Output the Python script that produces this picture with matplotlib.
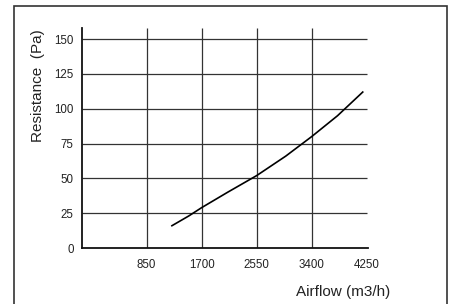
import matplotlib
matplotlib.use('Agg')
import matplotlib.pyplot as plt
from matplotlib.patches import Rectangle

plt.rcParams['font.family'] = ['Liberation Sans', 'DejaVu Sans']

# curve
airflow = [1240, 1500, 1700, 2100, 2550, 3000, 3400, 3800, 4190]
resistance = [16, 23, 29, 40, 52, 66, 80, 95, 112]

xticks = [850, 1700, 2550, 3400, 4250]
yticks = [0, 25, 50, 75, 100, 125, 150]

fig = plt.figure(figsize=(4.51, 3.04), dpi=100)
ax = fig.add_axes([0.1818, 0.1842, 0.634, 0.7237])

ax.set_xlim(-150, 4270)
ax.set_ylim(0, 158)

# grid drawn by hand so the horizontals stop at the last tick
ax.hlines(yticks[1:], -150, 4250, color='#333333', lw=0.9, zorder=1)
ax.vlines(xticks[:-1], 0, 158, color='#333333', lw=0.9, zorder=1)

ax.plot(airflow, resistance, color='black', lw=1.2, zorder=3)

ax.set_xticks(xticks)
ax.set_yticks(yticks)
ax.tick_params(length=0, labelsize=8.3, colors='#222222')
ax.tick_params(axis='x', pad=8)
ax.tick_params(axis='y', pad=6)

for s in ['top', 'right']:
    ax.spines[s].set_visible(False)
for s in ['left', 'bottom']:
    ax.spines[s].set_linewidth(1.3)
    ax.spines[s].set_color('#111111')

fig.text(0.084, 0.719, 'Resistance  (Pa)', rotation=90, ha='center', va='center',
         fontsize=11, color='#222222')
fig.text(0.760, 0.0395, 'Airflow (m3/h)', ha='center', va='center',
         fontsize=11, color='#222222')

fig.add_artist(Rectangle((0.031, -0.05), 0.96, 1.03, transform=fig.transFigure,
                         fill=False, edgecolor='#333333', lw=1.2))

fig.savefig('out.png', dpi=100)
